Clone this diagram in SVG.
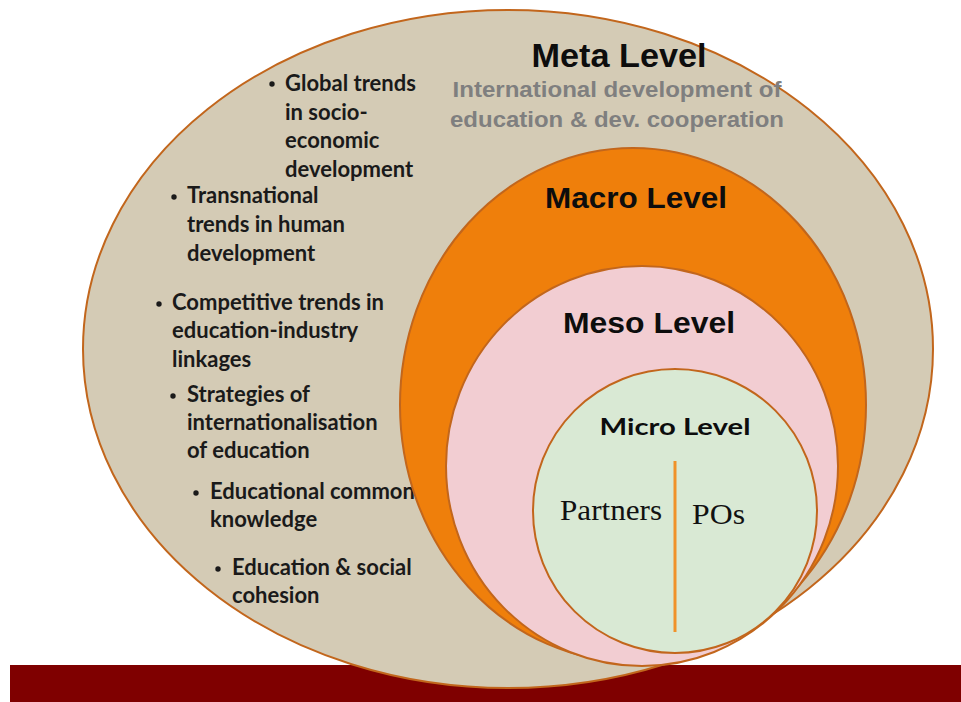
<svg xmlns="http://www.w3.org/2000/svg" width="961" height="702" viewBox="0 0 961 702">
<style>
.ring{stroke:#c2661c;stroke-width:2}
.lvl{font-family:"Liberation Sans",Arial,sans-serif;font-weight:bold;fill:#0d0d0d;text-anchor:middle}
.sub{font-family:"Liberation Sans",Arial,sans-serif;font-weight:bold;fill:#7f7f7f;font-size:22px;text-anchor:middle}
.bl{font-family:Lato,"Open Sans",sans-serif;font-weight:bold;fill:#1a1a1a;font-size:22px}
.sf{font-family:"Liberation Serif","Times New Roman",serif;fill:#111;font-size:29px}
</style>
<rect x="10" y="665" width="951" height="37" fill="#7f0000"/>
<g id="meta">
<ellipse class="ring" cx="508" cy="349" rx="425" ry="339" fill="#d4cbb5"/>
<text class="lvl" x="619" y="67" font-size="33" textLength="175" lengthAdjust="spacingAndGlyphs">Meta Level</text>
<text class="sub" x="617" y="97" textLength="329" lengthAdjust="spacingAndGlyphs">International development of</text>
<text class="sub" x="617" y="127" textLength="334" lengthAdjust="spacingAndGlyphs">education &amp; dev. cooperation</text>
<g class="bl">
<circle cx="272" cy="84" r="2.7" fill="#1a1a1a"/>
<text x="285" y="91">Global trends</text>
<text x="285" y="120">in socio-</text>
<text x="285" y="148">economic</text>
<text x="285" y="177">development</text>
<circle cx="174" cy="197" r="2.7" fill="#1a1a1a"/>
<text x="187" y="203">Transnational</text>
<text x="187" y="232">trends in human</text>
<text x="187" y="261">development</text>
<circle cx="159" cy="304" r="2.7" fill="#1a1a1a"/>
<text x="172" y="310">Competitive trends in</text>
<text x="172" y="338">education-industry</text>
<text x="172" y="367">linkages</text>
<circle cx="173" cy="396" r="2.7" fill="#1a1a1a"/>
<text x="187" y="402">Strategies of</text>
<text x="187" y="430">internationalisation</text>
<text x="187" y="458">of education</text>
<circle cx="196" cy="493" r="2.7" fill="#1a1a1a"/>
<text x="210" y="499">Educational common</text>
<text x="210" y="527">knowledge</text>
<circle cx="218" cy="569" r="2.7" fill="#1a1a1a"/>
<text x="232" y="575">Education &amp; social</text>
<text x="232" y="603">cohesion</text>
</g>
</g>
<g id="macro">
<ellipse class="ring" cx="633" cy="405" rx="233" ry="257" fill="#ef7f0b"/>
<text class="lvl" x="636" y="208" font-size="29" textLength="182" lengthAdjust="spacingAndGlyphs">Macro Level</text>
</g>
<g id="meso">
<ellipse class="ring" cx="642" cy="466" rx="196" ry="200" fill="#f2cdd2"/>
<text class="lvl" x="649" y="333" font-size="29" textLength="172" lengthAdjust="spacingAndGlyphs">Meso Level</text>
</g>
<g id="micro">
<circle class="ring" cx="675" cy="511" r="142" fill="#d9e9d4"/>
<text x="675" y="435" font-family="Lato,'Open Sans',sans-serif" font-weight="bold" font-size="23" fill="#0d0d0d" text-anchor="middle" textLength="151" lengthAdjust="spacingAndGlyphs">Micro Level</text>
<text class="sf" x="560" y="520" textLength="102" lengthAdjust="spacingAndGlyphs">Partners</text>
<text class="sf" x="692" y="524" textLength="53" lengthAdjust="spacingAndGlyphs">POs</text>
</g>
<g id="connectors">
<line x1="675" y1="461" x2="675" y2="632" stroke="#f0922a" stroke-width="3"/>
</g>
</svg>
